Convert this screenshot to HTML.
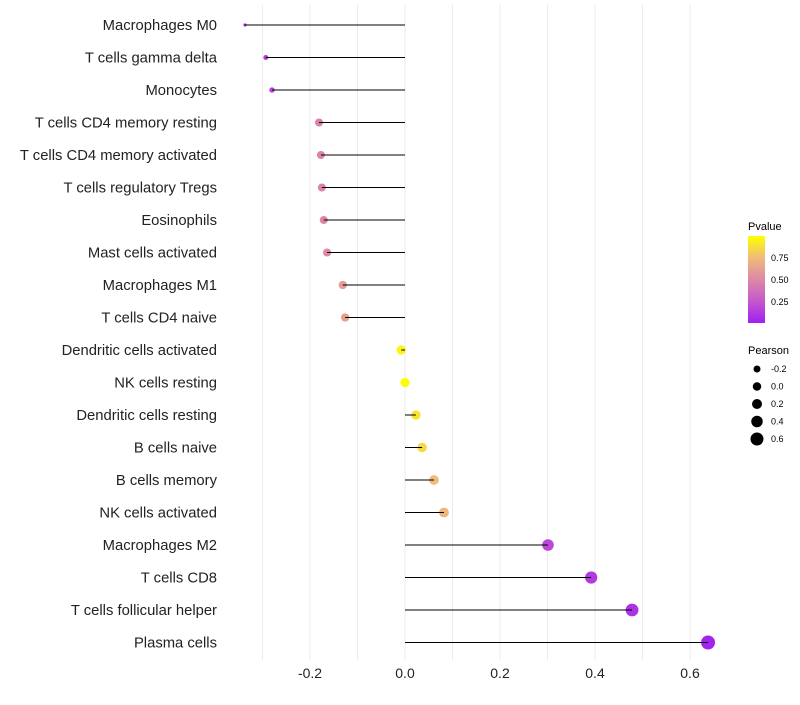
<!DOCTYPE html>
<html><head><meta charset="utf-8"><style>
body{margin:0;background:#fff;font-family:"Liberation Sans",sans-serif}
</style></head><body>
<svg id="chart" width="800" height="700">
<defs><linearGradient id="pg" x1="0" y1="1" x2="0" y2="0">
<stop offset="0" stop-color="#a020f0"/><stop offset="0.25" stop-color="#c458cc"/><stop offset="0.5" stop-color="#dc88a8"/><stop offset="0.75" stop-color="#f0bb78"/><stop offset="1" stop-color="#ffff00"/></linearGradient></defs>
<g id="grid"></g><g id="dots"></g><g id="marks"></g><g id="labels"></g>
<g>
<text x="748" y="230" font-size="11">Pvalue</text>
<rect x="748" y="236" width="17" height="87" fill="url(#pg)"/>
<g font-size="9"><text x="771" y="261">0.75</text><text x="771" y="283">0.50</text><text x="771" y="305">0.25</text></g>
</g>
<g id="sizeleg"><text x="748" y="354" font-size="11">Pearson</text></g>
</svg>
<script>
const categories=["Macrophages M0","T cells gamma delta","Monocytes","T cells CD4 memory resting","T cells CD4 memory activated","T cells regulatory  Tregs ","Eosinophils","Mast cells activated","Macrophages M1","T cells CD4 naive","Dendritic cells activated","NK cells resting","Dendritic cells resting","B cells naive","B cells memory","NK cells activated","Macrophages M2","T cells CD8","T cells follicular helper","Plasma cells"];
const pearson=[-0.337,-0.293,-0.28,-0.181,-0.177,-0.175,-0.171,-0.164,-0.131,-0.126,-0.008,0.0,0.023,0.036,0.061,0.082,0.301,0.392,0.478,0.638];
const pvalue=[0.05,0.12,0.15,0.47,0.48,0.48,0.49,0.5,0.6,0.62,0.96,0.99,0.9,0.86,0.75,0.72,0.18,0.12,0.08,0.02];
const xTicks=[-0.2,0,0.2,0.4,0.6];
const xTickLabels=["-0.2","0.0","0.2","0.4","0.6"];
const sizeLegend=[-0.2,0.0,0.2,0.4,0.6];
const NS="http://www.w3.org/2000/svg";
const xs=v=>405+v*475;
const ys=i=>25+i*32.5;
const sDom=[-0.34,-0.29,-0.18,0,0.3,0.64], sRng=[1.5,2.6,4,4.6,5.8,7];
function rs(v){if(v<=sDom[0])return sRng[0];for(let k=0;k<sDom.length-1;k++){if(v<=sDom[k+1]){const t=(v-sDom[k])/(sDom[k+1]-sDom[k]);return sRng[k]+t*(sRng[k+1]-sRng[k]);}}return sRng[sRng.length-1];}
function col(p){const st=[[0,[160,32,240]],[0.25,[196,88,204]],[0.5,[220,136,168]],[0.75,[240,187,120]],[1,[255,255,0]]];
for(let k=0;k<4;k++){if(p<=st[k+1][0]){const t=(p-st[k][0])/(st[k+1][0]-st[k][0]);const c=st[k][1].map((a,j)=>Math.round(a+(st[k+1][1][j]-a)*t));return `rgb(${c})`;}}return "rgb(255,255,0)";}
function mk(t,a,p){const e=document.createElementNS(NS,t);for(const k in a)e.setAttribute(k,a[k]);p.appendChild(e);return e;}
const grid=document.getElementById('grid'),marks=document.getElementById('marks'),dots=document.getElementById('dots'),labels=document.getElementById('labels');
for(let v=-0.3;v<=0.65;v+=0.1){const g=mk('line',{x1:xs(v),x2:xs(v),y1:5,y2:660,stroke:'#ebebeb','stroke-width':1},grid);

}
xTicks.forEach((v,i)=>{const t=mk('text',{x:xs(v),y:678,'text-anchor':'middle','font-size':14,fill:'#222'},labels);t.textContent=xTickLabels[i];

});
categories.forEach((c,i)=>{const y=ys(i);
const t=mk('text',{x:217,y:y+5,'text-anchor':'end','font-size':14.8,fill:'#222'},labels);t.textContent=c;


const d=mk('circle',{cx:xs(pearson[i]),cy:y,r:rs(pearson[i]),fill:col(pvalue[i])},dots);


const l=mk('line',{x1:xs(0),x2:xs(pearson[i]),y1:y,y2:y,stroke:'#000','stroke-width':1},marks);

});
const sl=document.getElementById('sizeleg');
sizeLegend.forEach((v,i)=>{const y=369+i*17.5;
const c=mk('circle',{cx:757,cy:y,r:3.5+i*0.75,fill:'#000'},sl);


const t=mk('text',{x:771,y:y+3,'font-size':9},sl);t.textContent=v.toFixed(1);

});
</script>
</body></html>
